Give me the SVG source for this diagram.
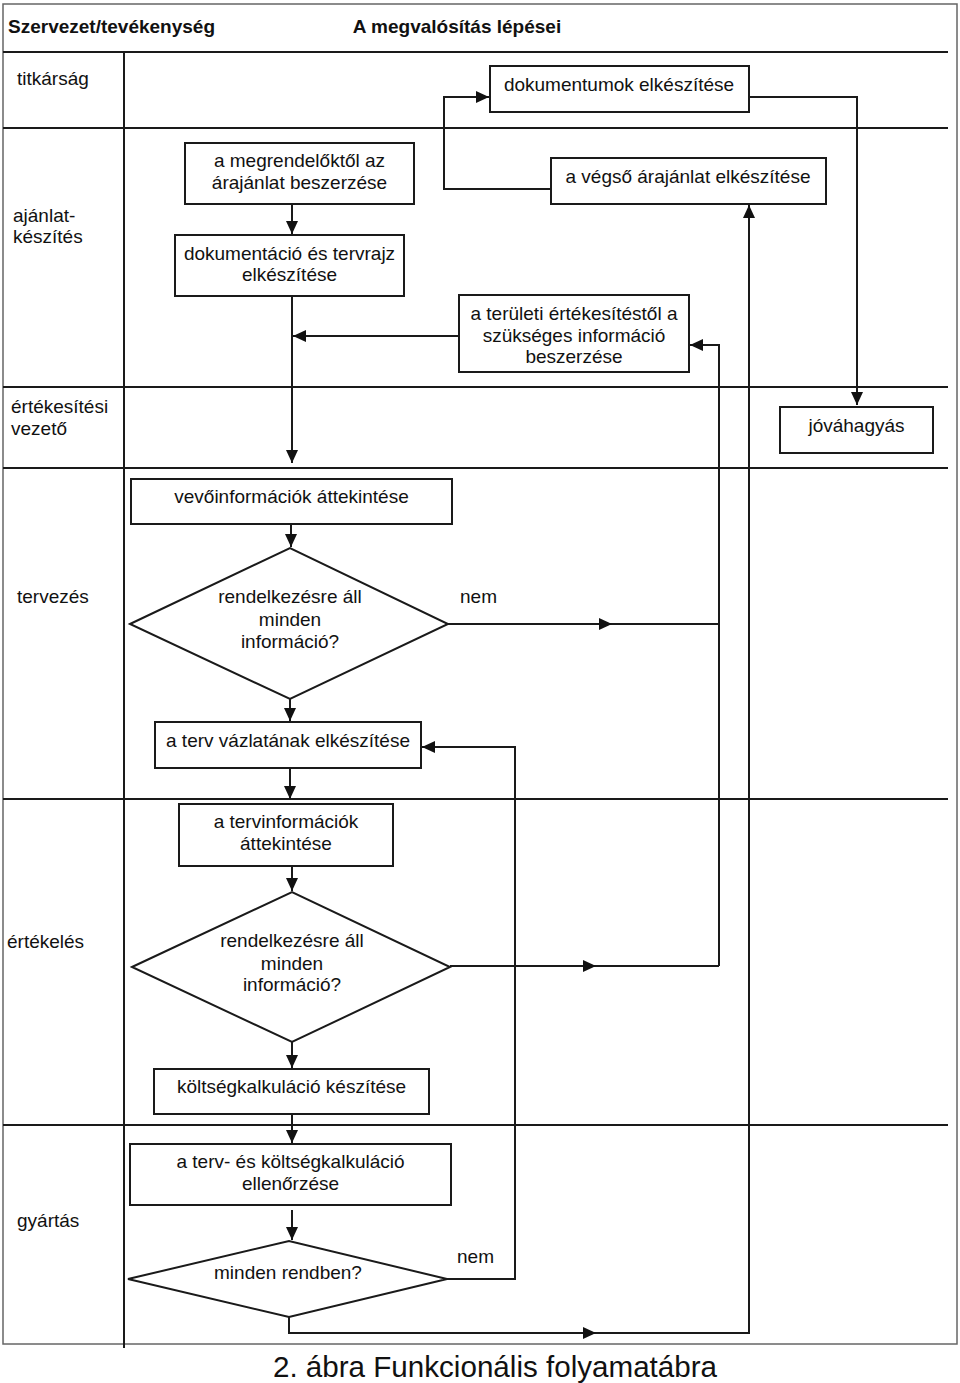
<svg xmlns="http://www.w3.org/2000/svg" width="960" height="1383" viewBox="0 0 960 1383">
<style>
text{font-family:"Liberation Sans",Arial,sans-serif;font-size:19px;fill:#111}
.b{font-weight:bold}
.m{text-anchor:middle}
.box{fill:#fff;stroke:#1a1a1a;stroke-width:2}
.grid{stroke:#1a1a1a;stroke-width:2;fill:none}
.c{stroke:#1a1a1a;stroke-width:2;fill:none}
.a{marker-end:url(#ah)}
</style>
<defs>
<marker id="ah" markerUnits="userSpaceOnUse" markerWidth="13" markerHeight="12" refX="13" refY="6" orient="auto">
<path d="M0,0 L13,6 L0,12 z" fill="#111"/>
</marker>
</defs>
<rect width="960" height="1383" fill="#fff"/>
<g id="grid">
<rect x="3" y="4" width="954" height="1340" fill="none" stroke="#666" stroke-width="1.5"/>
<path class="grid" d="M3,52 H948 M3,128 H948 M3,387 H948 M3,468 H948 M3,799 H948 M3,1125 H948 M124,52 V1348"/>
</g>
<g id="headers">
<text class="b" x="8" y="33">Szervezet/tevékenység</text>
<text class="b m" x="457" y="33">A megvalósítás lépései</text>
<text x="17" y="85">titkárság</text>
<text x="13" y="222">ajánlat-</text>
<text x="13" y="243">készítés</text>
<text x="11" y="413">értékesítési</text>
<text x="11" y="435">vezető</text>
<text x="17" y="603">tervezés</text>
<text x="7" y="948">értékelés</text>
<text x="17" y="1227">gyártás</text>
</g>
<g id="connectors">
<path class="c a" d="M292,204 V234"/>
<path class="c a" d="M292,296 V463"/>
<path class="c a" d="M459,336 H293"/>
<path class="c a" d="M551,189 H444 V97 H489"/>
<path class="c a" d="M749,97 H857 V405"/>
<path class="c a" d="M291,524 V547"/>
<path class="c a" d="M448,624 H612"/>
<path class="c" d="M612,624 H719"/>
<path class="c a" d="M719,966 V345 H690"/>
<path class="c a" d="M290,699 V721"/>
<path class="c a" d="M290,768 V799"/>
<path class="c a" d="M292,866 V891"/>
<path class="c a" d="M450,966 H596"/>
<path class="c" d="M596,966 H719"/>
<path class="c a" d="M292,1042 V1068"/>
<path class="c a" d="M292,1114 V1143"/>
<path class="c a" d="M292,1210 V1240"/>
<path class="c a" d="M447,1279 H515 V747 H422"/>
<path class="c a" d="M289,1317 V1333 H596"/>
<path class="c a" d="M596,1333 H749 V205"/>
</g>
<g id="n-dokumentumok">
<rect class="box" x="490" y="66" width="259" height="46"/>
<text class="m" x="619" y="91">dokumentumok elkészítése</text>
</g>
<g id="n-megrendelo">
<rect class="box" x="185" y="143" width="229" height="61"/>
<text class="m" x="299.5" y="167">a megrendelőktől az</text>
<text class="m" x="299.5" y="189">árajánlat beszerzése</text>
</g>
<g id="n-vegso">
<rect class="box" x="551" y="158" width="275" height="46"/>
<text class="m" x="688" y="183">a végső árajánlat elkészítése</text>
</g>
<g id="n-dokumentacio">
<rect class="box" x="175" y="235" width="229" height="61"/>
<text class="m" x="289.5" y="260">dokumentáció és tervrajz</text>
<text class="m" x="289.5" y="281">elkészítése</text>
</g>
<g id="n-teruleti">
<rect class="box" x="459" y="295" width="230" height="77"/>
<text class="m" x="574" y="320">a területi értékesítéstől a</text>
<text class="m" x="574" y="342">szükséges információ</text>
<text class="m" x="574" y="363">beszerzése</text>
</g>
<g id="n-jovahagyas">
<rect class="box" x="780" y="407" width="153" height="46"/>
<text class="m" x="856.5" y="432">jóváhagyás</text>
</g>
<g id="n-vevoinfo">
<rect class="box" x="131" y="479" width="321" height="45"/>
<text class="m" x="291.5" y="503">vevőinformációk áttekintése</text>
</g>
<g id="n-dontes1">
<polygon class="box" points="130,624 290,548 448,624 290,699"/>
<text class="m" x="290" y="603">rendelkezésre áll</text>
<text class="m" x="290" y="626">minden</text>
<text class="m" x="290" y="648">információ?</text>
<text x="460" y="603">nem</text>
</g>
<g id="n-vazlat">
<rect class="box" x="155" y="722" width="266" height="46"/>
<text class="m" x="288" y="747">a terv vázlatának elkészítése</text>
</g>
<g id="n-tervinfo">
<rect class="box" x="179" y="804" width="214" height="62"/>
<text class="m" x="286" y="828">a tervinformációk</text>
<text class="m" x="286" y="850">áttekintése</text>
</g>
<g id="n-dontes2">
<polygon class="box" points="132,967 292,892 450,967 292,1042"/>
<text class="m" x="292" y="947">rendelkezésre áll</text>
<text class="m" x="292" y="970">minden</text>
<text class="m" x="292" y="991">információ?</text>
</g>
<g id="n-koltseg">
<rect class="box" x="154" y="1069" width="275" height="45"/>
<text class="m" x="291.5" y="1093">költségkalkuláció készítése</text>
</g>
<g id="n-ellenorzes">
<rect class="box" x="130" y="1144" width="321" height="61"/>
<text class="m" x="290.5" y="1168">a terv- és költségkalkuláció</text>
<text class="m" x="290.5" y="1190">ellenőrzése</text>
</g>
<g id="n-dontes3">
<polygon class="box" points="128,1279 289,1241 447,1279 289,1317"/>
<text class="m" x="288" y="1279">minden rendben?</text>
<text x="457" y="1263">nem</text>
</g>
<text class="m" x="495" y="1377" style="font-size:29.6px">2. ábra Funkcionális folyamatábra</text>
</svg>
